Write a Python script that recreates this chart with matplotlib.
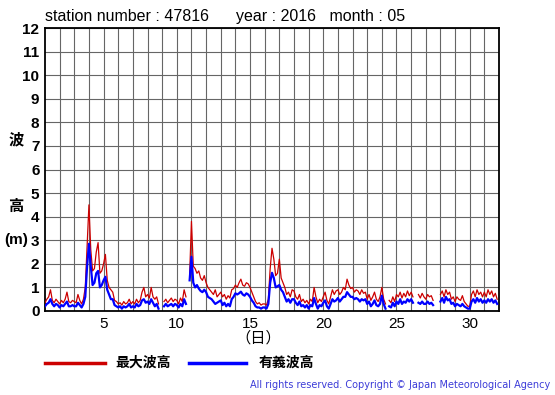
"""
波浪観測 月間グラフ (station 47816, 2016-05) — 最大波高 / 有義波高
"""

import numpy as np
import matplotlib.pyplot as plt
from matplotlib.lines import Line2D

plt.rcParams['font.family'] = ['Liberation Sans', 'Noto Sans CJK JP', 'DejaVu Sans']

# 3時間ごとの値 (1日8点), nan = 欠測
hmax = [
    0.35, 0.5, 0.6, 0.9, 0.45, 0.35, 0.5, 0.4,      # 1
    0.3, 0.45, 0.35, 0.5, 0.8, 0.4, 0.35, 0.45,     # 2
    0.4, 0.35, 0.7, 0.45, 0.3, 0.5, 1.0, 2.8,       # 3
    4.5, 2.6, 1.7, 1.8, 2.5, 2.9, 1.6, 1.7,         # 4
    2.0, 2.4, 1.3, 1.0, 0.9, 0.8, 0.45, 0.4,        # 5
    0.3, 0.35, 0.25, 0.4, 0.3, 0.35, 0.5, 0.3,      # 6
    0.4, 0.3, 0.5, 0.35, 0.45, 0.8, 1.0, 0.6,       # 7
    0.7, 0.55, 1.0, 0.6, 0.5, 0.6, 0.3, np.nan,     # 8
    np.nan, 0.4, 0.5, 0.35, 0.45, 0.55, 0.4, 0.5,   # 9
    0.45, 0.3, 0.55, 0.4, 0.9, 0.6, np.nan, 1.5,    # 10
    3.8, 1.9, 1.8, 1.6, 1.7, 1.4, 1.3, 1.5,         # 11
    1.2, 1.0, 0.9, 0.8, 0.7, 0.9, 0.6, 0.7,         # 12
    0.8, 0.6, 0.7, 0.5, 0.65, 0.55, 0.9, 0.95,      # 13
    1.1, 1.0, 1.2, 1.35, 1.1, 1.05, 1.2, 1.15,      # 14
    1.0, 0.8, 0.6, 0.4, 0.3, 0.35, 0.25, 0.3,       # 15
    0.3, 0.25, 0.5, 1.8, 2.66, 2.2, 1.5, 1.6,       # 16
    2.2, 1.4, 1.2, 1.0, 0.7, 0.8, 0.6, 0.9,         # 17
    0.85, 0.6, 0.5, 0.7, 0.4, 0.5, 0.35, 0.45,      # 18
    0.3, 0.5, 0.4, 1.0, 0.6, 0.35, 0.5, 0.4,        # 19
    0.6, 0.8, 0.45, 0.3, 0.6, 0.9, 0.7, 0.85,       # 20
    0.9, 0.7, 0.8, 1.0, 0.9, 1.35, 1.1, 0.95,       # 21
    1.0, 0.8, 0.9, 0.85, 0.7, 0.9, 0.75, 0.8,       # 22
    0.5, 0.7, 0.45, 0.6, 0.8, 0.5, 0.4, 0.6,        # 23
    1.0, 0.5, 0.3, np.nan, 0.45, 0.35, 0.6, 0.4,    # 24
    0.7, 0.6, 0.8, 0.55, 0.75, 0.6, 0.85, 0.65,     # 25
    0.8, 0.6, np.nan, np.nan, 0.7, 0.55, 0.75, 0.6, # 26
    0.5, 0.7, 0.6, 0.65, 0.45, np.nan, np.nan, np.nan,  # 27
    0.7, 0.85, 0.6, 0.9, 0.7, 0.8, 0.5, 0.6,        # 28
    0.4, 0.6, 0.5, 0.45, 0.65, 0.4, 0.3, 0.2,       # 29
    0.2, 0.7, 0.85, 0.6, 0.9, 0.7, 0.8, 0.6,        # 30
    0.8, 0.6, 0.9, 0.7, 0.85, 0.6, 0.75, 0.5,       # 31
]

hsig = [
    0.2, 0.3, 0.35, 0.5, 0.3, 0.2, 0.3, 0.25,       # 1
    0.15, 0.25, 0.2, 0.3, 0.4, 0.2, 0.2, 0.25,      # 2
    0.2, 0.2, 0.35, 0.25, 0.15, 0.3, 0.6, 1.9,      # 3
    2.85, 1.9, 1.1, 1.2, 1.6, 1.7, 1.0, 1.1,        # 4
    1.3, 1.45, 0.9, 0.7, 0.5, 0.5, 0.25, 0.2,       # 5
    0.15, 0.2, 0.1, 0.2, 0.15, 0.2, 0.3, 0.15,      # 6
    0.2, 0.15, 0.3, 0.2, 0.25, 0.45, 0.5, 0.35,     # 7
    0.4, 0.3, 0.5, 0.35, 0.2, 0.3, 0.1, np.nan,     # 8
    np.nan, 0.2, 0.3, 0.2, 0.25, 0.3, 0.2, 0.3,     # 9
    0.25, 0.15, 0.3, 0.2, 0.5, 0.3, np.nan, 1.3,    # 10
    2.3, 1.2, 1.0, 1.1, 0.95, 0.85, 0.8, 0.9,       # 11
    0.8, 0.6, 0.55, 0.5, 0.4, 0.3, 0.35, 0.4,       # 12
    0.45, 0.25, 0.35, 0.2, 0.3, 0.2, 0.5, 0.6,      # 13
    0.75, 0.7, 0.75, 0.82, 0.7, 0.65, 0.75, 0.7,    # 14
    0.6, 0.45, 0.35, 0.2, 0.15, 0.15, 0.1, 0.15,    # 15
    0.15, 0.1, 0.3, 1.2, 1.62, 1.4, 1.0, 1.05,      # 16
    1.1, 0.9, 0.8, 0.6, 0.4, 0.5, 0.35, 0.5,        # 17
    0.5, 0.35, 0.25, 0.4, 0.2, 0.25, 0.15, 0.25,    # 18
    0.1, 0.25, 0.2, 0.55, 0.3, 0.1, 0.25, 0.2,      # 19
    0.35, 0.45, 0.2, 0.1, 0.3, 0.5, 0.4, 0.45,      # 20
    0.55, 0.4, 0.5, 0.6, 0.6, 0.8, 0.7, 0.6,        # 21
    0.6, 0.5, 0.55, 0.5, 0.4, 0.5, 0.45, 0.5,       # 22
    0.3, 0.4, 0.2, 0.3, 0.45, 0.25, 0.2, 0.3,       # 23
    0.65, 0.3, 0.1, np.nan, 0.2, 0.15, 0.35, 0.2,   # 24
    0.4, 0.3, 0.5, 0.3, 0.4, 0.35, 0.5, 0.4,        # 25
    0.5, 0.35, np.nan, np.nan, 0.35, 0.3, 0.4, 0.3, # 26
    0.3, 0.4, 0.3, 0.35, 0.25, np.nan, np.nan, np.nan,  # 27
    0.4, 0.55, 0.35, 0.6, 0.45, 0.5, 0.3, 0.35,     # 28
    0.2, 0.3, 0.25, 0.2, 0.3, 0.2, 0.15, 0.1,       # 29
    0.1, 0.4, 0.5, 0.35, 0.55, 0.4, 0.5, 0.35,      # 30
    0.45, 0.35, 0.5, 0.4, 0.5, 0.35, 0.45, 0.3,     # 31
]

day = 1 + np.arange(len(hmax)) * 3 / 24.0

xticks = [5, 10, 15, 20, 25, 30]
yticks = list(range(0, 13))

fig = plt.figure(figsize=(5.55, 3.95), dpi=100)
ax = fig.add_axes([45 / 555, 84 / 395, 454 / 555, 283 / 395])

ax.plot(day, hmax, color='#cc0000', lw=0.9, zorder=3)
ax.plot(day, hsig, color='#0000ff', lw=1.6, zorder=4)

ax.set_xlim(1, 32)
ax.set_ylim(0, 12)
ax.set_xticks(range(2, 32), minor=True)
ax.set_xticks(xticks)
ax.set_xticklabels([str(v) for v in xticks], fontsize=11)
ax.set_yticks(yticks)
ax.set_yticklabels([str(v) for v in yticks], fontsize=11, fontweight='bold')
ax.tick_params(which='both', length=0, pad=4)
ax.grid(True, which='both', color='#666666', lw=0.8)
for s in ax.spines.values():
    s.set_linewidth(1.3)
    s.set_color('black')

fig.text(45 / 555, 1 - 16 / 395, 'station number : 47816      year : 2016   month : 05',
         fontsize=11.5, va='center', ha='left')

fig.text(16 / 555, 1 - 140 / 395, '波', fontsize=11, fontweight='bold', ha='center', va='center')
fig.text(16 / 555, 1 - 207 / 395, '高', fontsize=11, fontweight='bold', ha='center', va='center')
fig.text(16 / 555, 1 - 240 / 395, '(m)', fontsize=11, fontweight='bold', ha='center', va='center')
fig.text(258 / 555, 1 - 338 / 395, '（日）', fontsize=11, ha='center', va='center')

# 凡例
fig.add_artist(Line2D([45 / 555, 105 / 555], [1 - 363 / 395] * 2, color='#cc0000', lw=2.5))
fig.text(115 / 555, 1 - 363 / 395, '最大波高', fontsize=10, fontweight='bold', va='center')
fig.add_artist(Line2D([189 / 555, 246 / 555], [1 - 363 / 395] * 2, color='#0000ff', lw=2.5))
fig.text(259 / 555, 1 - 363 / 395, '有義波高', fontsize=10, fontweight='bold', va='center')

fig.text(550 / 555, 1 - 385 / 395,
         'All rights reserved. Copyright © Japan Meteorological Agency',
         fontsize=7, color='#3c3cd8', ha='right', va='center', family='DejaVu Sans')

fig.savefig('out.png', dpi=100)
